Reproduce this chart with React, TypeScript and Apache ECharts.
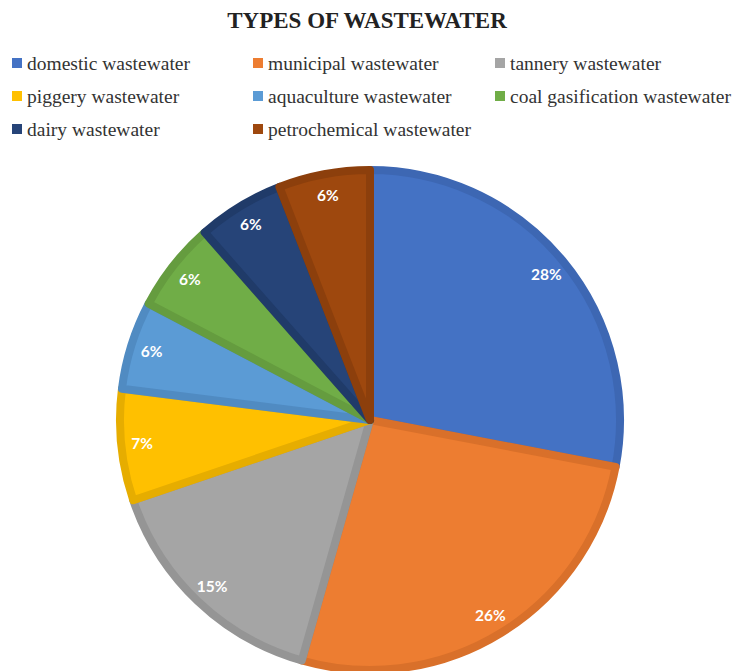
import React, { useEffect, useRef } from "react";
import * as echarts from "echarts";

const categories = [
  "domestic wastewater",
  "municipal wastewater",
  "tannery wastewater",
  "piggery wastewater",
  "aquaculture wastewater",
  "coal gasification wastewater",
  "dairy wastewater",
  "petrochemical wastewater",
];
const shares = [28.0, 26.4, 15.4, 7.2, 5.7, 5.8, 5.6, 5.9];
const colors = ["#4472C4", "#ED7D31", "#A5A5A5", "#FFC000", "#5B9BD5", "#70AD47", "#264478", "#9E480E"];
const borderColors = ["#3D67B3", "#D9702A", "#959595", "#E6AD00", "#508BC2", "#659C3F", "#203B69", "#8C3F0C"];
const legendColumns = [
  ["domestic wastewater", "piggery wastewater", "dairy wastewater"],
  ["municipal wastewater", "aquaculture wastewater", "petrochemical wastewater"],
  ["tannery wastewater", "coal gasification wastewater"],
];
const legendLefts = [12, 253, 495];

export default function App() {
  const ref = useRef<HTMLDivElement>(null);
  useEffect(() => {
    if (!ref.current) return;
    const chart = echarts.init(ref.current, undefined, { renderer: "svg" });
    const data = categories.map((name, i) => ({
      name,
      value: shares[i],
      itemStyle: { color: colors[i], borderColor: borderColors[i], borderWidth: 8 },
    }));
    const total = shares.reduce((a, b) => a + b, 0);
    const serif = { fontFamily: "Liberation Serif", fontSize: 19.5, lineHeight: 20, color: "#333" };
    chart.setOption({
      animation: false,
      textStyle: { fontFamily: "Liberation Serif" },
      title: {
        text: "TYPES OF WASTEWATER",
        left: "center",
        top: 4,
        textStyle: { fontFamily: "Liberation Serif", fontWeight: "bold", fontSize: 23, color: "#222" },
      },
      legend: legendColumns.map((col, ci) => ({
        orient: "vertical",
        left: legendLefts[ci],
        top: 53,
        padding: 0,
        itemWidth: 10,
        itemHeight: 10,
        itemGap: 13,
        icon: "rect",
        selectedMode: false,
        data: col.map((n) => ({
          name: n,
          itemStyle: { color: colors[categories.indexOf(n)], borderWidth: 0 },
        })),
        formatter: (name: string) => "{s|" + name + "}",
        textStyle: { ...serif, rich: { s: serif } },
      })),
      series: [
        {
          type: "pie",
          center: [370, 420],
          radius: 250,
          startAngle: 90,
          clockwise: true,
          data,
          label: { show: false },
          labelLine: { show: false },
          emphasis: { disabled: true },
        },
        {
          type: "pie",
          center: [370, 420],
          radius: [200, 252],
          startAngle: 90,
          clockwise: true,
          silent: true,
          z: 5,
          data: categories.map((name, i) => ({ name, value: shares[i] })),
          itemStyle: { color: "rgba(0,0,0,0)", borderWidth: 0 },
          label: {
            show: true,
            position: "inside",
            formatter: (p: any) => Math.round((p.value / total) * 100) + "%",
            fontFamily: "Lato",
            fontWeight: "bold",
            fontSize: 15.5,
            color: "#fff",
          },
          labelLine: { show: false },
          emphasis: { disabled: true },
        },
      ],
    });
    return () => chart.dispose();
  }, []);
  return <div ref={ref} style={{ position: "absolute", left: 0, top: 0, width: 734, height: 671 }} />;
}
